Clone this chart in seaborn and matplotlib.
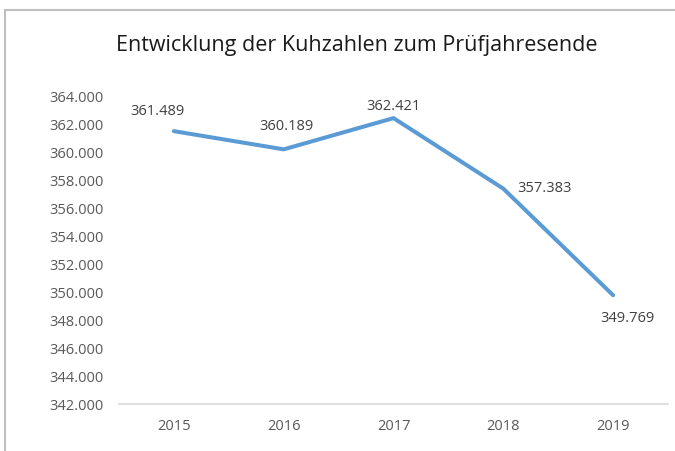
import matplotlib
matplotlib.use("Agg")
import matplotlib.pyplot as plt
import matplotlib.ticker as mticker
from matplotlib.patches import Rectangle
import numpy as np
import pandas as pd
import seaborn as sns

# data
years = [2015, 2016, 2017, 2018, 2019]
cows = [361489, 360189, 362421, 357383, 349769]
y_ticks = list(range(342000, 364001, 2000))
title = "Entwicklung der Kuhzahlen zum Prüfjahresende"

# label offsets in points (dx, dy), like Excel placed them
label_offsets = [(-11.5, 14.4), (1.8, 16.6), (0, 8.5), (30, 0), (10, -17)]

df = pd.DataFrame({"Jahr": years, "Kühe": cows})

sns.set_style("white")
plt.rcParams["font.family"] = ["Open Sans", "DejaVu Sans"]

fig = plt.figure(figsize=(6.75, 4.51), dpi=100)
ax = fig.add_axes([119 / 675, 1 - 404 / 451, (668 - 119) / 675, (404 - 96) / 451])

sns.lineplot(data=df, x="Jahr", y="Kühe", ax=ax, color="#5B9BD5",
             linewidth=2.9, solid_capstyle="round", solid_joinstyle="round")

ax.set_xlim(years[0] - 0.5, years[-1] + 0.5)
ax.set_ylim(y_ticks[0], y_ticks[-1])
ax.set_xticks(years)
ax.set_yticks(y_ticks)
ax.yaxis.set_major_formatter(
    mticker.FuncFormatter(lambda v, p: f"{v:,.0f}".replace(",", ".")))
ax.set_xlabel("")
ax.set_ylabel("")
ax.tick_params(axis="both", length=0, labelsize=10.5, labelcolor="#595959")
ax.tick_params(axis="y", pad=11)
ax.tick_params(axis="x", pad=11)

for s in ["top", "left", "right"]:
    ax.spines[s].set_visible(False)
ax.spines["bottom"].set_color("#D9D9D9")
ax.spines["bottom"].set_linewidth(1.2)

for x, y, (dx, dy) in zip(years, cows, label_offsets):
    ax.annotate(f"{y:,}".replace(",", "."), (x, y), xytext=(dx, dy),
                textcoords="offset points", ha="center", va="center",
                fontsize=10.5, color="#404040")

fig.text(357 / 675, 1 - 45 / 451, title, ha="center", va="center",
         fontsize=15.5, color="#1a1a1a")

# outer chart frame, only left and top edges are inside the picture
fig.patches.append(Rectangle((5 / 675, -0.2), 1.2, 1 - 10 / 451 + 0.2,
                             transform=fig.transFigure, fill=False,
                             edgecolor="#BFBFBF", linewidth=1.5))

fig.savefig("out.png", dpi=100)
